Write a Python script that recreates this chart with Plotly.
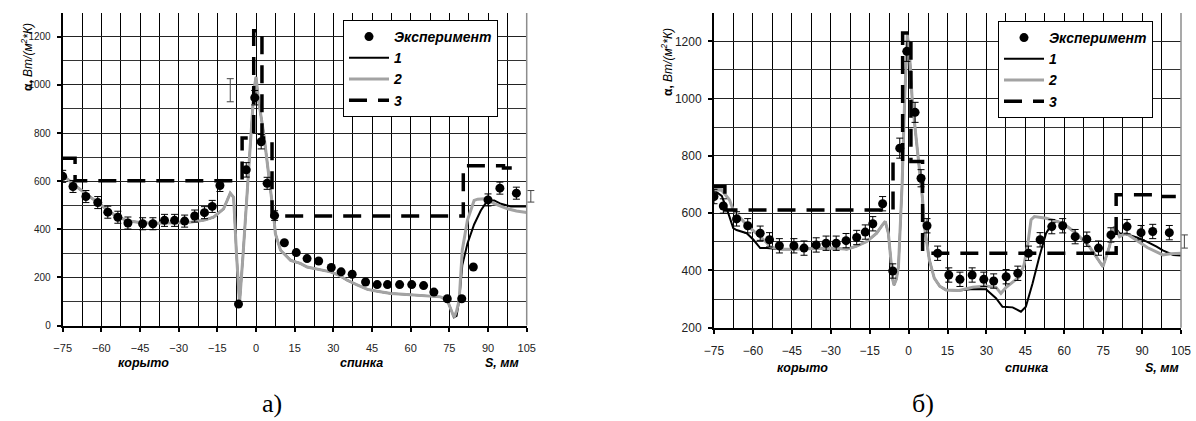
import plotly.graph_objects as go

# ---------------- data: chart а) ----------------
exp_a_s = [-75, -71, -66, -61.4, -57.5, -53.6, -49.7, -44, -40, -35.5, -31.6, -27.7, -23.8, -20, -17, -14,
           -6.8, -3.8, -0.5, 2, 4.3, 7.2,
           11, 15.6, 19.8, 24.3, 29.2, 33, 37.3, 42.5, 47, 51, 55.7, 60.4, 65, 69, 74.2, 79.8, 84.3,
           90, 94.6, 101]
exp_a_alpha = [620, 578, 536, 511, 471, 450, 426, 423, 423, 437, 437, 434, 455, 469, 495, 582,
               89, 647, 947, 764, 591, 457,
               344, 303, 278, 268, 241, 223, 213, 181, 170, 170, 170, 170, 166, 139, 111, 111, 243,
               522, 571, 550]
exp_a_err = [25] * 16 + [0, 30, 30, 30, 25, 20] + [0] * 17 + [25, 25, 25]

c2_a_s = [-75, -70, -65, -60, -55, -50, -45, -40, -35, -30, -25, -20, -16.5, -12.6, -10, -8.7, -7.6, -6.4, -5,
          -3.6, -2, -0.8, 0, 1, 3, 4.3, 5.6, 6.2, 6.9, 7.5, 9.5, 13.4, 17.2, 19.8, 24, 28.9, 32, 35.4, 39,
          43.2, 47, 52.3, 57, 61.3, 66, 71.6, 74.2, 75.5, 76.8, 77.8, 78.8, 80, 81.4, 82, 84.6, 86, 88.5,
          90, 92.4, 95, 97.6, 101, 105]
c2_a_alpha = [625, 580, 540, 500, 460, 435, 428, 425, 425, 427, 430, 438, 450, 485, 550, 533, 300, 92, 300,
              520, 800, 980, 1033, 934, 796, 685, 575, 520, 450, 382, 313, 271, 258, 243, 233, 223, 210, 188, 170,
              150, 142, 133, 130, 126, 123, 119, 105, 70, 34, 60, 105, 313, 409, 437, 520, 525, 527,
              522, 506, 495, 485, 476, 470]

c1_a_s = [-75, -70, -65, -60, -55, -50, -45, -40, -35, -30, -25, -20, -16.5, -12.6, -10, -8.7, -7.6, -6.4, -5,
          -3.6, -2, -0.8, 0, 1, 3, 4.3, 5.6, 6.2, 6.9, 7.5, 9.5, 13.4, 17.2, 19.8, 24, 28.9, 32, 35.4, 39,
          43.2, 47, 52.3, 57, 61.3, 66, 71.6, 74.2, 75.5, 76.8, 77.8, 78.8, 80, 82, 84.6, 87.2, 89.8, 92.4,
          95, 98.8, 101, 105]
c1_a_alpha = [625, 580, 540, 500, 460, 435, 428, 425, 425, 427, 430, 438, 450, 485, 550, 533, 300, 92, 300,
              520, 800, 980, 1033, 934, 796, 685, 575, 520, 450, 382, 313, 271, 258, 243, 233, 223, 210, 188, 170,
              150, 142, 133, 130, 126, 123, 119, 105, 70, 34, 40, 105, 250, 340, 420, 478, 520, 520,
              506, 495, 495, 495]

c3_a_s = [-75, -70.2, -5.4, -0.9, 2.3, 6.2, 80.4, 96, 103.4]
c3_a_alpha = [695, 602, 779, 1225, 779, 455, 664, 655, 655]

scale_a_s = [-10, 106.6]
scale_a_alpha = [978, 537]
scale_a_err = [48, 24]

# ---------------- data: chart б) ----------------
exp_b_s = [-75, -71.4, -66.3, -62, -57.2, -53.6, -49.8, -44.2, -40.3, -35.6, -31.8, -27.9, -24.1, -20, -16.7,
           -13.8, -10, -6.1, -3.4, -0.7, 2.5, 4.8, 7.1, 11.2, 15.5, 19.8, 24.5, 29, 32.8, 37.6, 42.1, 46.2,
           50.7, 55.2, 59.4, 64.2, 68.7, 73.2, 78, 84.2, 89.6, 94.1, 100.5]
exp_b_alpha = [658, 625, 580, 556, 530, 507, 486, 486, 478, 489, 495, 495, 504, 515, 534,
               563, 633, 398, 827, 1165, 952, 722, 556, 460, 384, 369, 384, 369, 363, 378, 390, 460,
               507, 553, 556, 518, 509, 478, 524, 553, 532, 536, 532]
exp_b_err = [25] * 18 + [35, 35, 35, 30] + [25] * 21

c2_b_s = [-75, -72, -69, -67.6, -65, -62.4, -60, -57.2, -55, -53.4, -49.6, -45, -40, -35, -29, -23.8, -20,
          -16.1, -12.3, -10, -9, -7.8, -6.9, -6.1, -5.6, -4.7, -3.9, -2.5, -1.5, -0.5, 0.4, 1.4, 2.7, 4, 5.4,
          6, 7, 8, 9.9, 12, 14.4, 19.5, 24.7, 29.8, 33.7, 35.6, 37.6, 40, 42.7, 44.5, 46, 47.2, 48.5, 53,
          59.4, 64.6, 69.7, 74.9, 77.4, 79.3, 81.3, 83.8, 87.7, 92, 98, 101, 105]
c2_b_alpha = [682, 680, 646, 611, 585, 559, 540, 518, 500, 483, 474, 474, 475, 476, 478, 474, 485,
              501, 530, 560, 571, 530, 440, 367, 349, 370, 413, 700, 1000, 1223, 1150, 996, 880, 763, 647,
              560, 500, 437, 373, 345, 332, 330, 341, 346, 341, 320, 341, 360, 378, 420, 495, 577, 588, 582,
              565, 530, 483, 413, 483, 553, 518, 530, 507, 480, 454, 458, 460]

c1_b_s = [-75, -72, -69.5, -67.6, -66.3, -62.4, -59.8, -57.2, -54.6, -49.6, -45, -40, -35, -29, -23.8, -20,
          -16.1, -12.3, -10, -9, -7.8, -6.9, -6.1, -5.6, -4.7, -3.9, -2.5, -1.5, -0.5, 0.4, 1.4, 2.7, 4, 5.4,
          6, 7, 8, 9.9, 12, 14.4, 19.5, 24.7, 29.8, 33.7, 36.2, 40.1, 43.3, 45.2, 47.8, 50.4, 53, 55, 57,
          59.4, 64.6, 69.7, 74.9, 77.4, 79.3, 81.3, 84.7, 88, 92, 95.6, 98, 102, 105]
c1_b_alpha = [680, 660, 600, 548, 541, 530, 507, 478, 478, 474, 474, 475, 476, 478, 474, 485,
              501, 530, 560, 571, 530, 440, 367, 349, 370, 413, 700, 1000, 1223, 1150, 996, 880, 763, 647,
              560, 500, 437, 373, 345, 332, 330, 335, 334, 303, 273, 271, 256, 273, 355, 448, 530, 559, 572,
              565, 530, 483, 413, 483, 553, 530, 525, 515, 500, 483, 470, 454, 452]

c3_b_s = [-75, -70.8, -6, -2.3, 0.9, 5.4, 80, 95.7, 103]
c3_b_alpha = [693, 611, 780, 1229, 780, 460, 664, 658, 658]

scale_b_s = [106.3]
scale_b_alpha = [501]
scale_b_err = [23]

# ---------------- ticks / labels ----------------
x_ticks = [-75, -60, -45, -30, -15, 0, 15, 30, 45, 60, 75, 90, 105]
y_ticks_a = [0, 200, 400, 600, 800, 1000, 1200]
y_ticks_b = [200, 400, 600, 800, 1000, 1200]
legend_names = ["Эксперимент", "1", "2", "3"]
y_title = "<b>α,</b> <i>Вт/(м<sup>2</sup>*К)</i>"
x_labels = ["корыто", "спинка", "S, мм"]
panel_labels = ["а)", "б)"]

W, H = 1196, 421
FONT = "Arial, Liberation Sans, sans-serif"
GREY = "#a3a3a3"
X_MIN, X_MAX = -75, 105


def fx(px):
    return px / W


def fy(py):
    return 1 - py / H


# pixel frames of the two panels
A_L, A_R, A_B, A_T = 62.7, 526.7, 325.5, 13
B_L, B_R, B_B, B_T = 714, 1181, 327.7, 13
EXT = 13  # extra px on the right for the error-scale bars outside the frame

fig = go.Figure()


def add_panel(xa, ya, xs, ys, leg, s1, a1, s2, a2, s3, a3, se, ae, ee, ss, sa, sv):
    fig.add_trace(go.Scatter(x=s1, y=a1, mode="lines", name=legend_names[1], xaxis=xa, yaxis=ya,
                             legend=leg, legendrank=2, line=dict(color="black", width=2)))
    fig.add_trace(go.Scatter(x=s2, y=a2, mode="lines", name=legend_names[2], xaxis=xa, yaxis=ya,
                             legend=leg, legendrank=3, line=dict(color=GREY, width=3)))
    fig.add_trace(go.Scatter(x=s3, y=a3, mode="lines", name=legend_names[3], xaxis=xa, yaxis=ya,
                             legend=leg, legendrank=4,
                             line=dict(color="black", width=3.5, dash="18px,11px", shape="hv")))
    fig.add_trace(go.Scatter(x=se, y=ae, mode="markers", name=legend_names[0], xaxis=xa, yaxis=ya,
                             legend=leg, legendrank=1,
                             marker=dict(color="black", size=9),
                             error_y=dict(type="data", array=ee, color="black", thickness=1, width=3.5)))
    fig.add_trace(go.Scatter(x=ss, y=sa, mode="markers", showlegend=False, xaxis=xs, yaxis=ys,
                             marker=dict(color="rgba(0,0,0,0)", size=1),
                             error_y=dict(type="data", array=sv, color="#444", thickness=1, width=3.5)))


add_panel("x", "y", "x3", "y3", "legend", c1_a_s, c1_a_alpha, c2_a_s, c2_a_alpha, c3_a_s, c3_a_alpha,
          exp_a_s, exp_a_alpha, exp_a_err, scale_a_s, scale_a_alpha, scale_a_err)
add_panel("x2", "y2", "x4", "y4", "legend2", c1_b_s, c1_b_alpha, c2_b_s, c2_b_alpha, c3_b_s, c3_b_alpha,
          exp_b_s, exp_b_alpha, exp_b_err, scale_b_s, scale_b_alpha, scale_b_err)


def xaxis(dom, anchor, fs):
    return dict(domain=dom, anchor=anchor, range=[X_MIN, X_MAX], tickvals=x_ticks, showgrid=True,
                automargin=False,
                gridcolor="black", gridwidth=1, zeroline=False, showline=True, linecolor="black",
                linewidth=2, ticks="outside", ticklen=4, tickwidth=1.5, tickcolor="black",
                ticklabelstandoff=7, tickfont=dict(family=FONT, size=fs, color="#222"),
                minor=dict(dtick=7.5, tick0=-75, showgrid=True, gridcolor="black", gridwidth=1))


def yaxis(dom, anchor, rng, tv, fs):
    return dict(domain=dom, anchor=anchor, range=rng, tickvals=tv, showgrid=True,
                automargin=False,
                gridcolor="#222", gridwidth=1, zeroline=False, showline=True, linecolor="black",
                linewidth=2, ticks="outside", ticklen=4, tickwidth=1.5, tickcolor="black",
                ticklabelstandoff=4, tickfont=dict(family=FONT, size=fs, color="#222"),
                minor=dict(dtick=100, tick0=0, showgrid=True, gridcolor="#333", gridwidth=1))


def hidden_x(left, right, anchor):
    ext_units = EXT * (X_MAX - X_MIN) / (right - left)
    return dict(domain=[fx(left), fx(right + EXT)], anchor=anchor, range=[X_MIN, X_MAX + ext_units],
                visible=False, showgrid=False, zeroline=False)


def hidden_y(dom, anchor, rng):
    return dict(domain=dom, anchor=anchor, range=rng, visible=False, showgrid=False, zeroline=False)


legend_common = dict(bgcolor="white", bordercolor="black", borderwidth=1, xanchor="left", yanchor="top",
                     itemwidth=40, tracegroupgap=0,
                     font=dict(family=FONT, size=14, color="black", weight="bold", style="italic"))

ya_dom = [fy(A_B), fy(A_T)]
yb_dom = [fy(B_B), fy(B_T)]
fig.update_layout(
    width=W, height=H, margin=dict(l=0, r=0, t=0, b=0, autoexpand=False),
    paper_bgcolor="white", plot_bgcolor="rgba(0,0,0,0)",
    xaxis=xaxis([fx(A_L), fx(A_R)], "y", 11),
    yaxis=yaxis(ya_dom, "x", [0, 1299], y_ticks_a, 10),
    xaxis2=xaxis([fx(B_L), fx(B_R)], "y2", 12),
    yaxis2=yaxis(yb_dom, "x2", [200, 1299], y_ticks_b, 12),
    xaxis3=hidden_x(A_L, A_R, "y3"),
    yaxis3=hidden_y(ya_dom, "x3", [0, 1299]),
    xaxis4=hidden_x(B_L, B_R, "y4"),
    yaxis4=hidden_y(yb_dom, "x4", [200, 1299]),
    legend=dict(x=fx(343), y=fy(20), **legend_common),
    legend2=dict(x=fx(998), y=fy(21), **legend_common),
    shapes=[
        dict(type="line", xref="x domain", yref="y domain", x0=1, x1=1, y0=0, y1=1,
             line=dict(color="#8c8c8c", width=1.5)),
        dict(type="line", xref="x2 domain", yref="y2 domain", x0=1, x1=1, y0=0, y1=1,
             line=dict(color="#8c8c8c", width=1.5)),
    ],
)

ann = []
lab_font = dict(family=FONT, size=12.5, color="black", weight="bold", style="italic")
for txt, px, py in [(x_labels[0], 143, 363), (x_labels[1], 361, 363), (x_labels[2], 502, 363),
                    (x_labels[0], 802, 368), (x_labels[1], 1026, 368), (x_labels[2], 1162, 368)]:
    ann.append(dict(text=txt, x=fx(px), y=fy(py), xref="paper", yref="paper", showarrow=False,
                    xanchor="center", yanchor="middle", font=lab_font))
for px, py in [(27, 57), (667, 62)]:
    ann.append(dict(text=y_title, x=fx(px), y=fy(py), xref="paper", yref="paper", showarrow=False,
                    textangle=-90, xanchor="center", yanchor="middle",
                    font=dict(family=FONT, size=12, color="black")))
for txt, px, py in [(panel_labels[0], 272, 403), (panel_labels[1], 923, 403)]:
    ann.append(dict(text=txt, x=fx(px), y=fy(py), xref="paper", yref="paper", showarrow=False,
                    xanchor="center", yanchor="middle",
                    font=dict(family="Liberation Serif, Times New Roman, serif", size=26, color="black")))
fig.update_layout(annotations=ann)

fig.write_html("out.html", config={"displayModeBar": False},
               post_script="document.body.style.margin='0';document.body.style.padding='0';"
                           "document.body.style.overflow='hidden';")
